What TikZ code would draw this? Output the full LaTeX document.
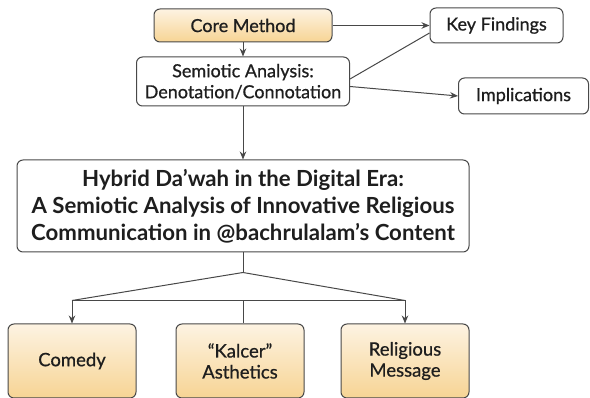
\documentclass[tikz,border=0pt]{standalone}
\usepackage{fontspec}
\setmainfont{Lato}
\newfontfamily\labelfont{Lato}[Ligatures=TeX, FakeBold=0.7]
\usetikzlibrary{arrows.meta, positioning}

\definecolor{boxline}{RGB}{72,72,72}
\definecolor{inktext}{RGB}{30,30,30}
\definecolor{warmtop}{RGB}{253,243,226}
\definecolor{warmbot}{RGB}{247,212,148}

\tikzstyle{plain} = [rectangle, rounded corners=6pt, align=center, draw=boxline, fill=white, line width=1pt, text=inktext, font=\labelfont\fontsize{18}{21}\selectfont]
\tikzstyle{warm} = [rectangle, rounded corners=6pt, align=center, draw=boxline, top color=warmtop, bottom color=warmbot, line width=1pt, text=inktext, font=\labelfont\fontsize{18}{21}\selectfont]
\tikzstyle{leaf} = [warm, minimum width=128pt, minimum height=74pt, font=\labelfont\fontsize{18.5}{21}\selectfont]
\tikzstyle{title} = [plain, minimum width=452pt, minimum height=92pt, font=\bfseries\fontsize{22.2}{27}\selectfont]
\tikzstyle{link} = [line width=1pt, draw=boxline]
\tikzstyle{arrow} = [link,->,>={Stealth[length=8pt,width=6.5pt]}]

\begin{document}
\begin{tikzpicture}[x=1pt, y=1pt, node distance=14pt]
\useasboundingbox (0,0) rectangle (590,-398);

\node (hybrid) [title] at (243,-206) {Hybrid Da'wah in the Digital Era:\\A Semiotic Analysis of Innovative Religious\\Communication in @bachrulalam's Content};

\node (semiotic) [plain, above=53pt of hybrid, minimum width=213pt, minimum height=49pt] {Semiotic Analysis:\\Denotation/Connotation};
\node (core) [warm, above=of semiotic, minimum width=178pt, minimum height=33pt] {Core Method};
\node (keyf) [plain, right=97pt of core, minimum width=133pt, minimum height=35pt] {Key Findings};
\node (impl) [plain, right=108pt of semiotic, yshift=-14.5pt, minimum width=130pt, minimum height=36pt] {Implications};

\node (kalcer) [leaf, below=71pt of hybrid, xshift=-3pt] {``Kalcer''\\Asthetics};
\node (comedy) [leaf, left=39pt of kalcer] {Comedy};
\node (relig) [leaf, right=36pt of kalcer] {Religious\\Message};

\coordinate (apex) at ([yshift=-20pt]hybrid.south);
\coordinate (mid) at ([yshift=-28pt]apex);
\coordinate (cl) at ([yshift=23pt]comedy.north);
\coordinate (cr) at ([yshift=23pt]relig.north);

\draw [arrow] (core) -- (semiotic);
\draw [arrow] (core) -- (keyf);
\draw [link] ([yshift=2.5pt]semiotic.east) -- ([yshift=-7.5pt]keyf.west);
\draw [arrow] ([yshift=-5pt]semiotic.east) -- (impl.west);
\draw [arrow] (semiotic) -- (hybrid);

\draw [link] (hybrid) -- (apex);
\draw [link] (cl) -- (apex) -- (cr);
\draw [link] (cl) -- (cr);
\draw [arrow] (cl) -- (comedy);
\draw [arrow] (cr) -- (relig);
\draw [link] (mid) -- (mid |- kalcer.north);

\end{tikzpicture}
\end{document}
